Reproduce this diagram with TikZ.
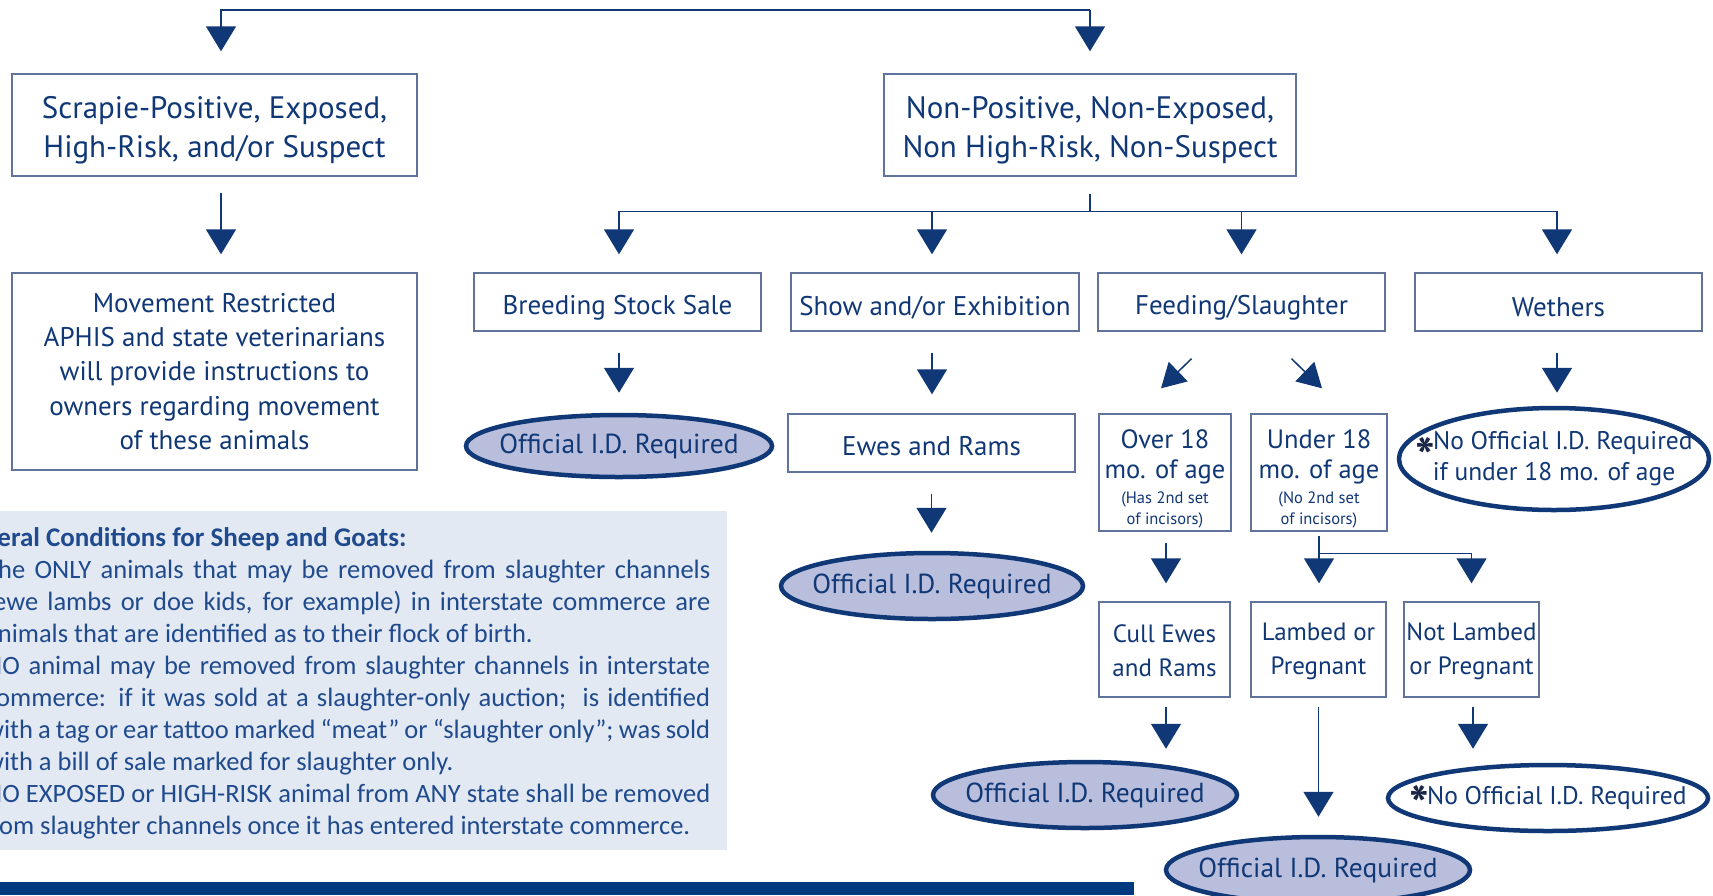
\documentclass[tikz,border=0pt]{standalone}
\usepackage{fontspec}
\setmainfont{PT Sans}
\newfontfamily\panelfont{Carlito}
\usetikzlibrary{arrows.meta,shapes.geometric,calc}
\definecolor{navy}{HTML}{103776}
\definecolor{boxline}{HTML}{5F739D}
\definecolor{ellfill}{HTML}{B8BEDC}
\definecolor{panelbg}{HTML}{E3E9F2}
\definecolor{barblue}{HTML}{003A7E}
\definecolor{paneltext}{HTML}{1F4A8E}
\definecolor{astcol}{HTML}{1B2545}
\newcommand\fsz[2]{\fontsize{#1}{#2}\selectfont}
\newcommand\astk[1]{\smash{\raisebox{#1}{\color{astcol}\bfseries\fsz{52}{52}*}}\hspace{-2pt}}
\newcommand\lowr[1]{\rule{0pt}{#1}}
\begin{document}
\begin{tikzpicture}[x=1pt,y=-1pt,
 box/.style={draw=boxline, line width=1.4pt, rectangle, inner sep=0pt, align=center, text=navy},
 oval/.style={ellipse, draw=navy, line width=4.5pt, fill=ellfill, inner xsep=-90pt, inner ysep=-40pt, text=navy, align=center, font=\fsz{27.5}{31}},
 ovalw/.style={oval, fill=white, font=\fsz{25.5}{31}},
 link/.style={draw=navy, line width=1.5pt},
 arr/.style={link, -{Triangle[width=30pt,length=25pt]}},
 pline/.style={anchor=base west, inner sep=0pt, text=paneltext, font=\panelfont\fsz{26.5}{32}},
]
\useasboundingbox (0,0) rectangle (1713,895);
\fill[white] (0,0) rectangle (1713,895);

% panel and bar
\fill[panelbg] (0,511) rectangle (727,850);
\fill[barblue] (0,882) rectangle (1134,895);
\begin{scope}
\clip (0,511) rectangle (727,850);
\node[pline, font=\panelfont\bfseries\fsz{27}{32}] (ph) at (-48,546) {General Conditions for Sheep and Goats:};
\node[pline] (p1) at (-15,578) {\makebox[725pt][s]{The ONLY animals that may be removed from slaughter channels}};
\node[pline] (p2) at (-15,610) {\makebox[725pt][s]{(ewe lambs or doe kids, for example) in interstate commerce are}};
\node[pline] (p3) at (-15,642) {animals that are identified as to their flock of birth.};
\node[pline] (p4) at (-15,674) {\makebox[725pt][s]{NO animal may be removed from slaughter channels in interstate}};
\node[pline] (p5) at (-15,706) {\makebox[725pt][s]{commerce: if it was sold at a slaughter-only auction;\ \ is identified}};
\node[pline] (p6) at (-15,738) {\makebox[725pt][s]{with a tag or ear tattoo marked “meat” or “slaughter only”; was sold}};
\node[pline] (p7) at (-15,770) {with a bill of sale marked for slaughter only.};
\node[pline] (p8) at (-15,802) {\makebox[725pt][s]{NO EXPOSED or HIGH-RISK animal from ANY state shall be removed}};
\node[pline] (p9) at (-18,834) {from slaughter channels once it has entered interstate commerce.};
\end{scope}

% boxes
\node[box, minimum width=405pt, minimum height=102pt, font=\fsz{31}{39}] (scrapie) at (214.5,125) {\lowr{33pt}Scrapie-Positive, Exposed,\\High-Risk, and/or Suspect};
\node[box, minimum width=412pt, minimum height=102pt, font=\fsz{31}{39}] (nonpos) at (1090,125) {\lowr{33pt}Non-Positive, Non-Exposed,\\Non High-Risk, Non-Suspect};
\node[box, minimum width=405pt, minimum height=197pt, font=\fsz{27}{34.2}] (move) at (214.5,371.5) {Movement Restricted\\APHIS and state veterinarians\\will provide instructions to\\owners regarding movement\\of these animals};
\node[box, minimum width=287pt, minimum height=58pt, font=\fsz{27}{31}] (breed) at (617.5,302) {\lowr{30pt}Breeding Stock Sale};
\node[box, minimum width=288pt, minimum height=58pt, font=\fsz{27}{31}] (show) at (935,302) {\lowr{30pt}Show and/or Exhibition};
\node[box, minimum width=287pt, minimum height=58pt, font=\fsz{27}{31}] (feed) at (1241.5,302) {\lowr{30pt}Feeding/Slaughter};
\node[box, minimum width=287pt, minimum height=58pt, font=\fsz{27}{31}] (weth) at (1558.5,302) {\lowr{30pt}Wethers};
\node[box, minimum width=287pt, minimum height=58pt, font=\fsz{27}{31}] (ewes) at (931.5,443) {\lowr{26pt}Ewes and Rams};
\node[box, minimum width=132pt, minimum height=117pt, font=\fsz{26.5}{29.5}] (over) at (1165,472.5) {\lowr{32pt}Over 18\\mo. of age\\[-4pt]{\fsz{16.5}{21}(Has 2nd set}\\[-9pt]{\fsz{16.5}{21}of incisors)}};
\node[box, minimum width=136pt, minimum height=117pt, font=\fsz{26.5}{29.5}] (under) at (1319,472.5) {\lowr{32pt}Under 18\\mo. of age\\[-4pt]{\fsz{16.5}{21}(No 2nd set}\\[-9pt]{\fsz{16.5}{21}of incisors)}};
\node[box, minimum width=131pt, minimum height=95pt, font=\fsz{25}{34}] (cull) at (1164.5,649.5) {\lowr{21pt}Cull Ewes\\and Rams};
\node[box, minimum width=135pt, minimum height=95pt, font=\fsz{25}{34}] (lamb) at (1318.5,649.5) {\lowr{21pt}Lambed or\\Pregnant};
\node[box, minimum width=135pt, minimum height=95pt, font=\fsz{25}{34}] (notl) at (1471.5,649.5) {\lowr{21pt}Not Lambed\\or Pregnant};

% ovals
\node[oval, minimum width=306pt, minimum height=62pt] (e1) at (619,446) {Official I.D.\ Required};
\node[oval, minimum width=302pt, minimum height=66pt] (e2) at (932,586) {Official I.D.\ Required};
\node[ovalw, minimum width=310pt, minimum height=102pt] (e3) at (1554,459) {\astk{-26pt}No Official I.D.\ Required\\if under 18 mo. of age};
\node[oval, minimum width=304pt, minimum height=66pt] (e4) at (1085,795) {Official I.D.\ Required};
\node[oval, minimum width=304pt, minimum height=66pt] (e5) at (1318,870) {Official I.D.\ Required};
\node[ovalw, minimum width=320pt, minimum height=66pt] (e6) at (1548,798) {\astk{-19pt}No Official I.D.\ Required};

% top connectors
\coordinate (top) at (1090,10);
\draw[arr, shorten >=22pt] (top) -| ([xshift=6.5pt]scrapie.north);
\draw[arr, shorten >=22pt] (top) -- (nonpos.north);
\draw[arr, shorten <=16pt, shorten >=18pt] ([xshift=6.5pt]scrapie.south) -- ([xshift=6.5pt]move.north);

% branch from nonpos
\coordinate (bj) at ($(nonpos.south)+(0,35)$);
\draw[link, shorten <=17pt] (nonpos.south) -- (bj);
\draw[arr, shorten >=18pt] (bj) -| ([xshift=1.5pt]breed.north);
\draw[arr, shorten >=18pt] (bj) -| ([xshift=-3pt]show.north);
\draw[arr, shorten >=18pt] (bj) -| (feed.north);
\draw[arr, shorten >=18pt] (bj) -| ([xshift=-1.5pt]weth.north);

% row 2 down
\draw[arr, shorten <=21pt, shorten >=20pt] ([xshift=1.5pt]breed.south) -- ([xshift=1.5pt]breed.south |- e1.north);
\draw[arr, shorten <=21pt, shorten >=19pt] ([xshift=-3pt]show.south) -- ([xshift=-3pt]show.south |- ewes.north);
\draw[arr, shorten <=21pt, shorten >=18pt] (ewes.south) -- (ewes.south |- e2.north);
\draw[arr, shorten <=21pt, shorten >=13pt] ([xshift=-1.5pt]weth.south) -- ([xshift=-1.5pt]weth.south |- e3.north);
\draw[arr, -{Triangle[width=27pt,length=24pt]}] ($(feed.south)+(-50,27)$) -- ($(over.north)+(-4,-25)$);
\draw[arr, -{Triangle[width=27pt,length=24pt]}] ($(feed.south)+(50,27)$) -- ($(under.north)+(3,-25)$);

% over/under down
\draw[arr, shorten <=11pt, shorten >=18pt] ([xshift=1pt]over.south) -- ([xshift=1pt]over.south |- cull.north);
\draw[arr, shorten <=4pt, shorten >=18pt] (under.south) -- (under.south |- lamb.north);
\coordinate (uj) at ($(under.south)+(0,22)$);
\draw[arr, shorten >=18pt] (uj) -| (notl.north);

% bottom arrows
\draw[arr, shorten <=9pt, shorten >=11pt] ([xshift=1.5pt]cull.south) -- ([xshift=1.5pt]cull.south |- e4.north);
\draw[arr, shorten <=9pt, shorten >=18pt] (lamb.south) -- (lamb.south |- e5.north);
\draw[arr, shorten <=9pt, shorten >=14pt] ([xshift=1.5pt]notl.south) -- ([xshift=1.5pt]notl.south |- e6.north);
\end{tikzpicture}
\end{document}
